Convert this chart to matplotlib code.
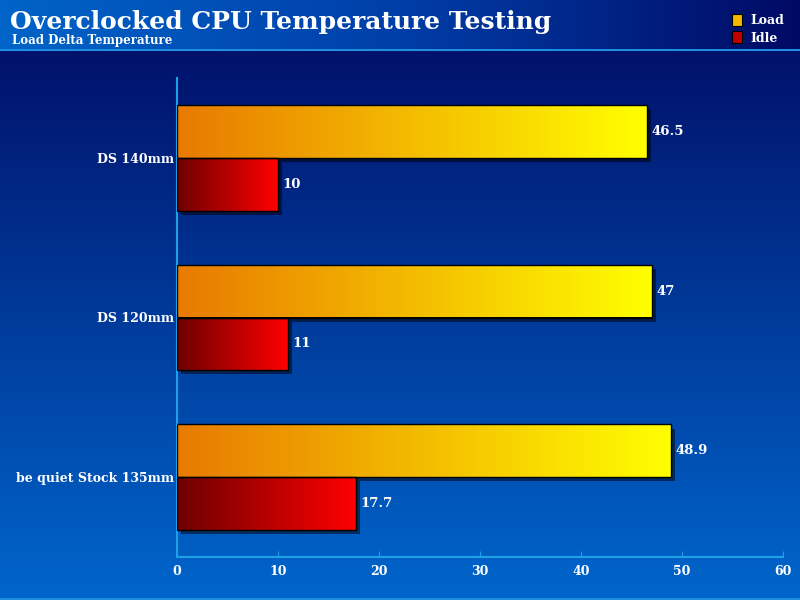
import numpy as np
import matplotlib
matplotlib.use("Agg")
from matplotlib import pyplot as plt
from matplotlib import patheffects as pe
from matplotlib.colors import LinearSegmentedColormap
from matplotlib.patches import Patch

# data
categories = ["DS 140mm", "DS 120mm", "be quiet Stock 135mm"]
load_vals = [46.5, 47, 48.9]
idle_vals = [10, 11, 17.7]
series_names = ["Load", "Idle"]

plt.rcParams['font.family'] = ['DejaVu Serif']
plt.rcParams['font.weight'] = 'bold'

fig = plt.figure(figsize=(8, 6), dpi=100)

# background gradients
bg = fig.add_axes([0, 0, 1, 1], zorder=-10)
bg_cmap = LinearSegmentedColormap.from_list("bg", ["#000a62", "#0066cc"])
bg.imshow(np.linspace(0, 1, 256).reshape(-1, 1), cmap=bg_cmap, aspect='auto',
          extent=(0, 1, 0, 1), origin='upper')
bg.set_xlim(0, 1)
bg.set_ylim(0, 1)
bg.axis('off')
bg.axhline(1 - 50 / 600, color="#1e8fe0", lw=1.5)
bg.axhline(1.5 / 600, color="#1e8fe0", lw=1.5)

head = fig.add_axes([0, 1 - 49 / 600, 1, 49 / 600], zorder=-9)
head_cmap = LinearSegmentedColormap.from_list("head", ["#0064c8", "#003ea8", "#000a64"])
head.imshow(np.linspace(0, 1, 256).reshape(1, -1), cmap=head_cmap, aspect='auto',
            extent=(0, 1, 0, 1))
head.axis('off')

fig.text(10 / 800, 1 - 29 / 600, "Overclocked CPU Temperature Testing", color='white',
         fontsize=18, fontweight='bold', va='baseline', ha='left')
fig.text(12 / 800, 1 - 44 / 600, "Load Delta Temperature", color='white',
         fontsize=8.5, fontweight='bold', va='baseline', ha='left')

# main axes
ax = fig.add_axes([177 / 800, 1 - 557 / 600, 606 / 800, 479 / 600])
ax.set_facecolor('none')

load_cmap = LinearSegmentedColormap.from_list("load", ["#e87a00", "#ffff00"])
idle_cmap = LinearSegmentedColormap.from_list("idle", ["#6e0000", "#ff0000"])

y = np.arange(len(categories))
h = 0.33
grad = np.linspace(0, 1, 256).reshape(1, -1)
shadow = [pe.SimplePatchShadow(offset=(3, -3), shadow_rgbFace='black', alpha=0.5), pe.Normal()]

for vals, cmap, off in [(load_vals, load_cmap, -h / 2), (idle_vals, idle_cmap, h / 2)]:
    bars = ax.barh(y + off, vals, height=h, color='none', edgecolor='none', zorder=2)
    for b, v in zip(bars, vals):
        b.set_facecolor('black')
        b.set_path_effects(shadow)
        yy = b.get_y()
        im = ax.imshow(grad, cmap=cmap, aspect='auto', zorder=3,
                       extent=(0, v, yy, yy + h))
        im.set_clip_path(b)
        ax.text(v + 0.45, yy + h / 2, f"{v:g}", color='white', fontsize=9.5,
                fontweight='bold', va='center', ha='left', zorder=5)
    ax.barh(y + off, vals, height=h, color='none', edgecolor='black', lw=1, zorder=4)

ax.set_xlim(0, 60)
ax.set_ylim(2.5, -0.5)
ax.set_xticks(range(0, 61, 10))
ax.set_yticks(y)
ax.set_yticklabels(categories)
ax.tick_params(axis='x', colors="#1e9fe8", direction='in', length=4, labelcolor='white',
               labelsize=9, pad=6)
ax.tick_params(axis='y', length=0, labelcolor='white', labelsize=9, pad=2)
for lab in ax.get_xticklabels() + ax.get_yticklabels():
    lab.set_fontweight('bold')
for s in ['top', 'right']:
    ax.spines[s].set_visible(False)
for s in ['left', 'bottom']:
    ax.spines[s].set_color("#1e9fe8")
    ax.spines[s].set_linewidth(1.5)

# legend
handles = [Patch(facecolor="#f5b800", edgecolor='black', lw=0.8),
           Patch(facecolor="#c00000", edgecolor='black', lw=0.8)]
leg = fig.legend(handles, series_names, loc='upper right', bbox_to_anchor=(0.995, 0.995),
                 frameon=False, handlelength=0.8, handleheight=1.1, handletextpad=0.7,
                 labelspacing=0.3, prop={'size': 9, 'weight': 'bold'})
for t in leg.get_texts():
    t.set_color('white')

plt.savefig("out.png", dpi=100)
